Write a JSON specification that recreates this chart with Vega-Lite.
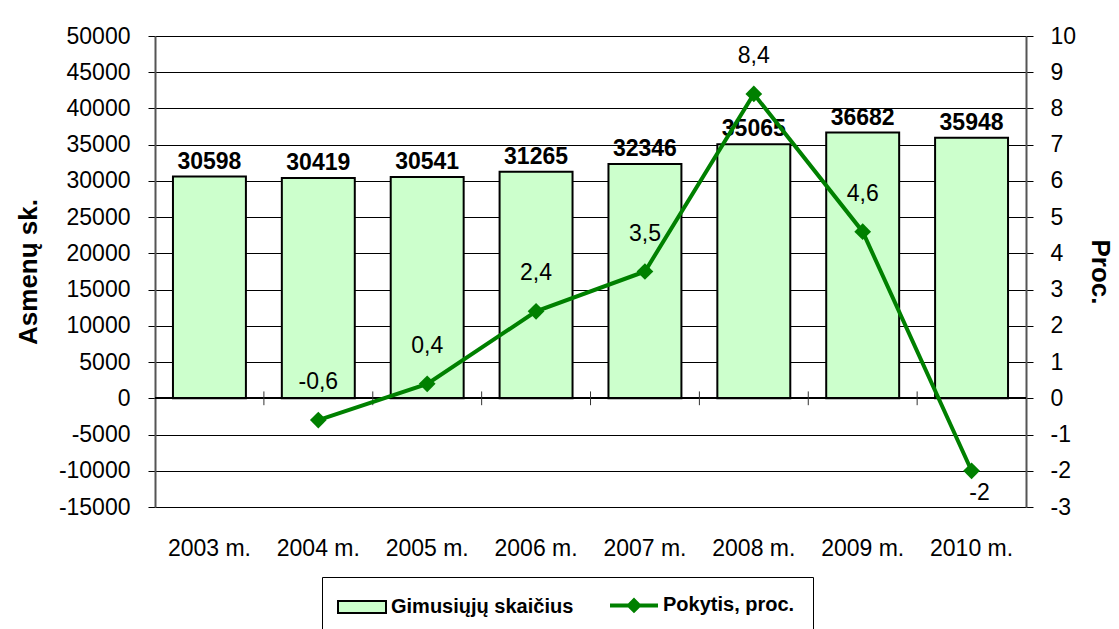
{
  "$schema": "https://vega.github.io/schema/vega-lite/v6.json",
  "width": 871,
  "height": 471,
  "autosize": {"type": "none"},
  "padding": {"left": 155, "top": 36, "right": 93, "bottom": 122},
  "background": "white",
  "config": {
    "font": "Liberation Sans",
    "view": {"stroke": null},
    "locale": {"number": {"decimal": ",", "thousands": " ", "grouping": [3], "currency": ["", " €"], "minus": "-"}},
    "axis": {"labelFont": "Liberation Sans", "labelFontSize": 23, "labelColor": "black", "titleFont": "Liberation Sans", "titleColor": "black"}
  },
  "data": {"values": [
    {"year": "2003 m.", "births": 30598, "change": null},
    {"year": "2004 m.", "births": 30419, "change": -0.6},
    {"year": "2005 m.", "births": 30541, "change": 0.4},
    {"year": "2006 m.", "births": 31265, "change": 2.4},
    {"year": "2007 m.", "births": 32346, "change": 3.5},
    {"year": "2008 m.", "births": 35065, "change": 8.4},
    {"year": "2009 m.", "births": 36682, "change": 4.6},
    {"year": "2010 m.", "births": 35948, "change": -2}
  ]},
  "encoding": {
    "x": {
      "field": "year", "type": "nominal", "sort": null,
      "scale": {"paddingInner": 0.33, "paddingOuter": 0.165},
      "axis": {"title": null, "domain": false, "ticks": false, "tickSize": 0, "labelPadding": 30, "labelAngle": 0, "grid": false}
    }
  },
  "layer": [
    {
      "encoding": {
        "y": {
          "field": "births", "type": "quantitative",
          "scale": {"domain": [-15000, 50000], "nice": false, "zero": false},
          "axis": {
            "orient": "left", "title": "Asmenų sk.", "titleFontSize": 26, "titleFontWeight": "bold", "titlePadding": 17,
            "values": [-15000, -10000, -5000, 0, 5000, 10000, 15000, 20000, 25000, 30000, 35000, 40000, 45000, 50000],
            "format": "d", "grid": true, "gridColor": "black", "gridWidth": 1,
            "domainColor": "#555", "domainWidth": 2, "tickColor": "black", "tickSize": 7, "labelPadding": 18
          }
        }
      },
      "layer": [
        {
          "mark": {"type": "bar", "fill": "#ccffcc", "stroke": "black", "strokeWidth": 2}
        },
        {
          "mark": {"type": "text", "font": "Liberation Sans", "fontSize": 23, "fontWeight": "bold", "color": "black", "baseline": "alphabetic", "dy": -8},
          "encoding": {"text": {"field": "births", "type": "quantitative", "format": "d"}}
        },
        {
          "mark": {"type": "rule", "color": "black", "strokeWidth": 1.5},
          "encoding": {"y": {"datum": 0}, "x": null}
        },
        {
          "transform": [{"filter": "datum.year != '2003 m.'"}],
          "mark": {"type": "rule", "color": "#333", "strokeWidth": 1},
          "encoding": {
            "x": {"field": "year", "type": "nominal", "sort": null, "bandPosition": -0.246},
            "y": {"datum": -950},
            "y2": {"datum": 950}
          }
        }
      ]
    },
    {
      "transform": [{"filter": "isValid(datum.change)"}],
      "encoding": {
        "y": {
          "field": "change", "type": "quantitative",
          "scale": {"domain": [-3, 10], "nice": false, "zero": false},
          "axis": {
            "orient": "right", "title": "Proc.", "titleFontSize": 26, "titleFontWeight": "bold", "titlePadding": 11,
            "values": [-3, -2, -1, 0, 1, 2, 3, 4, 5, 6, 7, 8, 9, 10], "format": "d", "grid": false,
            "domainColor": "#555", "domainWidth": 2, "tickColor": "black", "tickSize": 7, "labelPadding": 17
          }
        }
      },
      "layer": [
        {
          "mark": {"type": "line", "strokeWidth": 4},
          "encoding": {
            "color": {
              "datum": "Pokytis, proc.",
              "scale": {"domain": ["Gimusiųjų skaičius", "Pokytis, proc."], "range": ["black", "#008000"]},
              "legend": {
                "title": null, "orient": "none", "legendX": 167, "legendY": 541, "direction": "horizontal", "columns": 2,
                "strokeColor": "black", "fillColor": "white", "padding": 18,
                "labelFont": "Liberation Sans", "labelFontSize": 20, "labelFontWeight": "bold", "labelColor": "black",
                "labelLimit": 400, "labelOffset": 31, "columnPadding": 28, "symbolSize": 576,
                "symbolType": {"expr": "datum.value == 'Gimusiųjų skaičius' ? 'M-1,-0.5H3V0.5H-1Z' : 'M-1,0H3M1,-0.42L1.42,0L1,0.42L0.58,0Z'"},
                "symbolFillColor": {"expr": "datum.value == 'Gimusiųjų skaičius' ? '#ccffcc' : '#008000'"},
                "symbolStrokeWidth": {"expr": "datum.value == 'Gimusiųjų skaičius' ? 2 : 4"},
                "symbolOpacity": 1
              }
            }
          }
        },
        {
          "mark": {"type": "point", "shape": "diamond", "size": 280, "filled": true, "color": "#008000", "opacity": 1}
        },
        {
          "transform": [{"filter": "datum.year != '2010 m.'"}],
          "mark": {"type": "text", "font": "Liberation Sans", "fontSize": 23, "color": "black", "baseline": "middle", "dy": -38},
          "encoding": {"text": {"field": "change", "type": "quantitative", "format": ".1~f"}}
        },
        {
          "transform": [{"filter": "datum.year == '2010 m.'"}],
          "mark": {"type": "text", "font": "Liberation Sans", "fontSize": 23, "color": "black", "baseline": "middle", "dy": 22, "dx": 8},
          "encoding": {"text": {"field": "change", "type": "quantitative", "format": ".1~f"}}
        }
      ]
    }
  ],
  "resolve": {"scale": {"y": "independent"}}
}
